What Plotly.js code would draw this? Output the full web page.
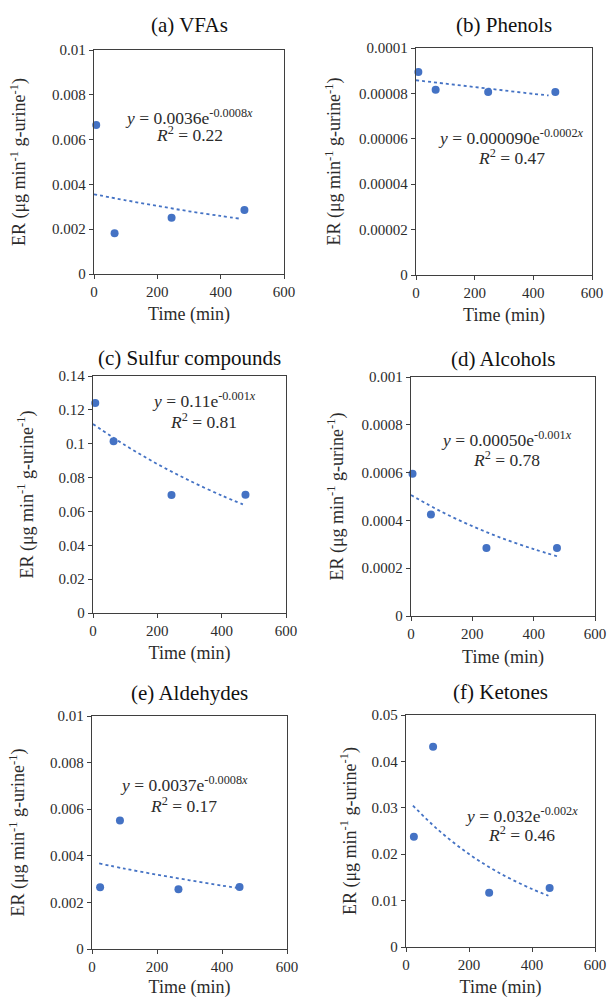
<!DOCTYPE html>
<html>
<head>
<meta charset="utf-8">
<script src="https://cdn.plot.ly/plotly-3.0.1.min.js"></script>
<style>
html,body{margin:0;padding:0;background:#fff;}
#chart{width:609px;height:998px;}
</style>
</head>
<body>
<div id="chart"></div>
<script>
// ---------- data ----------
const panelTitles = ['(a) VFAs', '(b) Phenols', '(c) Sulfur compounds', '(d) Alcohols', '(e) Aldehydes', '(f) Ketones'];

const timeA = [7, 65, 245, 475];
const erA = [0.00665, 0.00182, 0.00251, 0.00286];
const timeB = [8, 67, 246, 475];
const erB = [0.0000894, 0.0000816, 0.0000806, 0.0000806];
const timeC = [7, 64, 244, 474];
const erC = [0.1240, 0.1014, 0.0697, 0.0699];
const timeD = [5, 65, 246, 476];
const erD = [0.000595, 0.000425, 0.000285, 0.000284];
const timeE = [25, 86, 266, 454];
const erE = [0.00265, 0.00552, 0.00256, 0.00266];
const timeF = [25, 86, 264, 456];
const erF = [0.02374, 0.04318, 0.01169, 0.0127];

// exponential trend lines
const trendTimeA = [0, 100, 200, 300, 400, 466];
const trendA = [0.00356, 0.00329, 0.00304, 0.00280, 0.00259, 0.00246];
const trendTimeB = [0, 100, 200, 300, 400, 452];
const trendB = [0.0000858, 0.0000843, 0.0000828, 0.0000813, 0.0000798, 0.0000791];
const trendTimeC = [0, 100, 200, 300, 400, 466];
const trendC = [0.1116, 0.0991, 0.0880, 0.0782, 0.0694, 0.0642];
const trendTimeD = [0, 100, 200, 300, 400, 476];
const trendD = [0.000506, 0.000436, 0.000376, 0.000324, 0.000280, 0.000250];
const trendTimeE = [22, 100, 200, 300, 400, 449];
const trendE = [0.00367, 0.00345, 0.00319, 0.00295, 0.00272, 0.00262];
const trendTimeF = [22, 100, 200, 300, 400, 452];
const trendF = [0.03049, 0.02537, 0.02003, 0.01582, 0.01250, 0.01105];

const equations = [
  '<i>y</i> = 0.0036e<sup>-0.0008<i>x</i></sup>',
  '<i>y</i> = 0.000090e<sup>-0.0002<i>x</i></sup>',
  '<i>y</i> = 0.11e<sup>-0.001<i>x</i></sup>',
  '<i>y</i> = 0.00050e<sup>-0.001<i>x</i></sup>',
  '<i>y</i> = 0.0037e<sup>-0.0008<i>x</i></sup>',
  '<i>y</i> = 0.032e<sup>-0.002<i>x</i></sup>'
];
const rSquared = ['0.22', '0.47', '0.81', '0.78', '0.17', '0.46'];

const xTickVals = [0, 200, 400, 600];
const xTickText = ['0', '200', '400', '600'];
const yTickValsA = [0, 0.002, 0.004, 0.006, 0.008, 0.01];
const yTickTextA = ['0', '0.002', '0.004', '0.006', '0.008', '0.01'];
const yTickValsB = [0, 0.00002, 0.00004, 0.00006, 0.00008, 0.0001];
const yTickTextB = ['0', '0.00002', '0.00004', '0.00006', '0.00008', '0.0001'];
const yTickValsC = [0, 0.02, 0.04, 0.06, 0.08, 0.1, 0.12, 0.14];
const yTickTextC = ['0', '0.02', '0.04', '0.06', '0.08', '0.1', '0.12', '0.14'];
const yTickValsD = [0, 0.0002, 0.0004, 0.0006, 0.0008, 0.001];
const yTickTextD = ['0', '0.0002', '0.0004', '0.0006', '0.0008', '0.001'];
const yTickValsE = [0, 0.002, 0.004, 0.006, 0.008, 0.01];
const yTickTextE = ['0', '0.002', '0.004', '0.006', '0.008', '0.01'];
const yTickValsF = [0, 0.01, 0.02, 0.03, 0.04, 0.05];
const yTickTextF = ['0', '0.01', '0.02', '0.03', '0.04', '0.05'];

const xTitle = 'Time (min)';
const yTitle = 'ER (\u03bcg min<sup>-1</sup> g-urine<sup>-1</sup>)';

// ---------- layout helpers ----------
const W = 609, H = 998;
const BLUE = '#4472C4';
const INK = '#2b2b2b';
const FRAME = '#3f3f3f';
const SERIF = 'Liberation Serif';

// plot boxes in pixels: [left, right, top, bottom]
const boxes = [
  [94, 284, 50, 274],
  [416, 592, 48, 275],
  [93, 286, 376, 613],
  [411, 595, 377, 616],
  [92, 287, 716, 949],
  [406, 595, 715, 947]
];
const titleY = [25, 25, 358, 359, 693, 692];
const yStandoff = [21, 13, 20, 13, 20, 10];
const xStandoff = [8, 8, 8, 9, 14, 13];

const pts = [[timeA, erA], [timeB, erB], [timeC, erC], [timeD, erD], [timeE, erE], [timeF, erF]];
const trends = [[trendTimeA, trendA], [trendTimeB, trendB], [trendTimeC, trendC], [trendTimeD, trendD], [trendTimeE, trendE], [trendTimeF, trendF]];
const yTicks = [[yTickValsA, yTickTextA], [yTickValsB, yTickTextB], [yTickValsC, yTickTextC], [yTickValsD, yTickTextD], [yTickValsE, yTickTextE], [yTickValsF, yTickTextF]];
// annotation centres in data units: [x, yEq, yR2]
const annPos = [
  [300, 0.00703, 0.00627],
  [324, 0.0000606, 0.0000522],
  [345, 0.1256, 0.1136],
  [313, 0.000740, 0.000658],
  [283, 0.00707, 0.00619],
  [368, 0.02855, 0.02425]
];

const data = [];
const layout = {
  width: W, height: H,
  margin: {l: 0, r: 0, t: 0, b: 0},
  paper_bgcolor: '#ffffff',
  plot_bgcolor: '#ffffff',
  showlegend: false,
  font: {family: SERIF, color: INK, size: 15},
  annotations: []
};

for (let i = 0; i < 6; i++) {
  const n = i === 0 ? '' : String(i + 1);
  const xa = 'x' + n, ya = 'y' + n;
  const b = boxes[i];
  const yv = yTicks[i][0];
  data.push({
    x: trends[i][0], y: trends[i][1], xaxis: xa, yaxis: ya,
    type: 'scatter', mode: 'lines',
    line: {color: BLUE, width: 1.8, dash: 'dot', shape: 'spline'},
    hoverinfo: 'skip', cliponaxis: false
  });
  data.push({
    x: pts[i][0], y: pts[i][1], xaxis: xa, yaxis: ya,
    type: 'scatter', mode: 'markers',
    marker: {color: BLUE, size: 8},
    cliponaxis: false
  });
  layout['xaxis' + n] = {
    domain: [b[0] / W, b[1] / W],
    anchor: ya,
    range: [0, 600],
    tickvals: xTickVals, ticktext: xTickText,
    ticks: 'outside', ticklen: 4, tickcolor: FRAME, tickwidth: 1,
    showline: true, linecolor: FRAME, linewidth: 1.2, mirror: true,
    showgrid: false, zeroline: false,
    tickfont: {family: SERIF, size: 15, color: INK},
    title: {text: xTitle, font: {family: SERIF, size: 18, color: INK}, standoff: xStandoff[i]}
  };
  layout['yaxis' + n] = {
    domain: [1 - b[3] / H, 1 - b[2] / H],
    anchor: xa,
    range: [0, yv[yv.length - 1]],
    tickvals: yv, ticktext: yTicks[i][1],
    ticks: 'outside', ticklen: 4, tickcolor: FRAME, tickwidth: 1,
    showline: true, linecolor: FRAME, linewidth: 1.2, mirror: true,
    showgrid: false, zeroline: false,
    tickfont: {family: SERIF, size: 15, color: INK},
    title: {text: yTitle, font: {family: SERIF, size: 18, color: INK}, standoff: yStandoff[i]}
  };
  layout.annotations.push({
    xref: 'paper', yref: 'paper',
    x: (b[0] + b[1]) / 2 / W, y: 1 - titleY[i] / H,
    xanchor: 'center', yanchor: 'middle',
    text: panelTitles[i], showarrow: false, borderpad: 0,
    font: {family: SERIF, size: 21, color: '#111'}
  });
  layout.annotations.push({
    xref: xa, yref: ya, x: annPos[i][0], y: annPos[i][1],
    xanchor: 'center', yanchor: 'middle', showarrow: false, borderpad: 0,
    text: equations[i], font: {family: SERIF, size: 17.5, color: INK}
  });
  layout.annotations.push({
    xref: xa, yref: ya, x: annPos[i][0], y: annPos[i][2],
    xanchor: 'center', yanchor: 'middle', showarrow: false, borderpad: 0,
    text: '<i>R</i><sup>2</sup> = ' + rSquared[i], font: {family: SERIF, size: 17.5, color: INK}
  });
}

Plotly.newPlot('chart', data, layout, {staticPlot: true, displayModeBar: false});
</script>
</body>
</html>
